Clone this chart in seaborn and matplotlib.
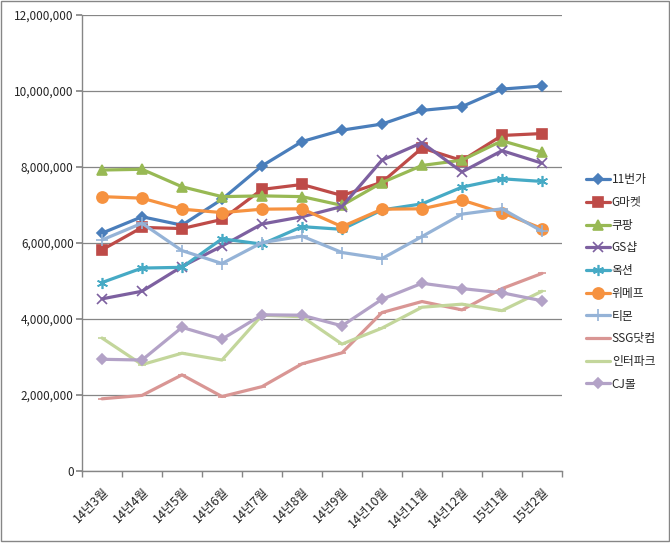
import pandas as pd
import matplotlib.pyplot as plt
import matplotlib.ticker as mticker
from matplotlib.patches import Rectangle
import seaborn as sns

months = ['14년3월', '14년4월', '14년5월', '14년6월', '14년7월', '14년8월',
          '14년9월', '14년10월', '14년11월', '14년12월', '15년1월', '15년2월']

st11 = [6260000, 6690000, 6470000, 7150000, 8030000, 8670000, 8970000, 9130000, 9490000, 9590000, 10050000, 10130000]
gmarket = [5820000, 6410000, 6380000, 6620000, 7410000, 7540000, 7250000, 7600000, 8500000, 8170000, 8830000, 8880000]
coupang = [7920000, 7940000, 7480000, 7220000, 7240000, 7220000, 6990000, 7590000, 8040000, 8180000, 8690000, 8390000]
gsshop = [4530000, 4730000, 5380000, 5920000, 6500000, 6690000, 6960000, 8180000, 8640000, 7870000, 8430000, 8100000]
auction = [4960000, 5340000, 5360000, 6110000, 5970000, 6430000, 6360000, 6870000, 7030000, 7470000, 7690000, 7620000]
wemakeprice = [7220000, 7180000, 6890000, 6800000, 6890000, 6900000, 6430000, 6890000, 6900000, 7130000, 6800000, 6380000]
tmon = [6080000, 6520000, 5800000, 5460000, 6010000, 6180000, 5750000, 5590000, 6170000, 6760000, 6900000, 6310000]
ssg = [1900000, 1990000, 2530000, 1960000, 2220000, 2820000, 3110000, 4170000, 4460000, 4240000, 4800000, 5200000]
interpark = [3500000, 2800000, 3100000, 2920000, 4100000, 4060000, 3340000, 3760000, 4310000, 4390000, 4220000, 4730000]
cjmall = [2940000, 2920000, 3780000, 3470000, 4110000, 4100000, 3820000, 4520000, 4940000, 4800000, 4690000, 4480000]

names = ['11번가', 'G마켓', '쿠팡', 'GS샵', '옥션', '위메프', '티몬', 'SSG닷컴', '인터파크', 'CJ몰']
series = [st11, gmarket, coupang, gsshop, auction, wemakeprice, tmon, ssg, interpark, cjmall]
colors = ['#4A7EBB', '#BE4B48', '#98B954', '#7D60A0', '#46AAC5', '#F69240',
          '#95B3D7', '#D99694', '#C3D69B', '#B3A2C7']
markers = ['D', 's', '^', 'x', (6, 2, 0), 'o', '+', '_', '_', 'D']
msizes = [5.5, 7.5, 7.5, 7, 8, 8, 8, 6, 6, 5.5]

sns.set_theme(style='white')
plt.rcParams['font.family'] = ['Noto Sans CJK KR', 'DejaVu Sans']

fig = plt.figure(figsize=(6.7, 5.46), dpi=100)
ax = fig.add_axes([82 / 670, 1 - 471 / 546, 480 / 670, 456 / 546])

for name, vals, c, m, ms in zip(names, series, colors, markers, msizes):
    df = pd.DataFrame({'x': range(len(months)), 'y': vals})
    sns.lineplot(data=df, x='x', y='y', ax=ax, color=c, marker=m, markersize=ms,
                 linewidth=2.3, label=name, markeredgecolor=c, markeredgewidth=1.2)

grey = '#868686'
ax.set_xlim(-0.5, len(months) - 0.5)
ax.set_ylim(0, 12000000)
ax.yaxis.set_major_locator(mticker.MultipleLocator(2000000))
ax.yaxis.set_major_formatter(mticker.FuncFormatter(lambda v, p: f'{int(v):,}'))
ax.grid(axis='y', color=grey, linewidth=0.9)
ax.set_axisbelow(True)
ax.set_xticks(range(len(months)))
ax.set_xticklabels(months, rotation=45, ha='right', rotation_mode='anchor', fontsize=9)
ax.set_xticks([i - 0.5 for i in range(len(months) + 1)], minor=True)
ax.tick_params(axis='x', which='major', length=0, pad=10)
ax.tick_params(axis='x', which='minor', length=4, color=grey, direction='out', bottom=True)
ax.tick_params(axis='y', length=4, color=grey, direction='out', left=True, labelsize=8.5, pad=2)
ax.set_xlabel('')
ax.set_ylabel('')
for s in ['top', 'right']:
    ax.spines[s].set_visible(False)
for s in ['left', 'bottom']:
    ax.spines[s].set_color(grey)
    ax.spines[s].set_linewidth(1.0)

ax.legend(loc='center left', bbox_to_anchor=(580 / 670, 1 - 282 / 546),
          bbox_transform=fig.transFigure, frameon=False, fontsize=8.5,
          labelspacing=0.82, handlelength=2.0, handletextpad=0.2, borderpad=0)

fig.patches.append(Rectangle((0.5 / 670, 5 / 546), 668 / 670, 540 / 546, transform=fig.transFigure,
                             fill=False, edgecolor=grey, linewidth=1.0))

fig.savefig('out.png', dpi=100)
